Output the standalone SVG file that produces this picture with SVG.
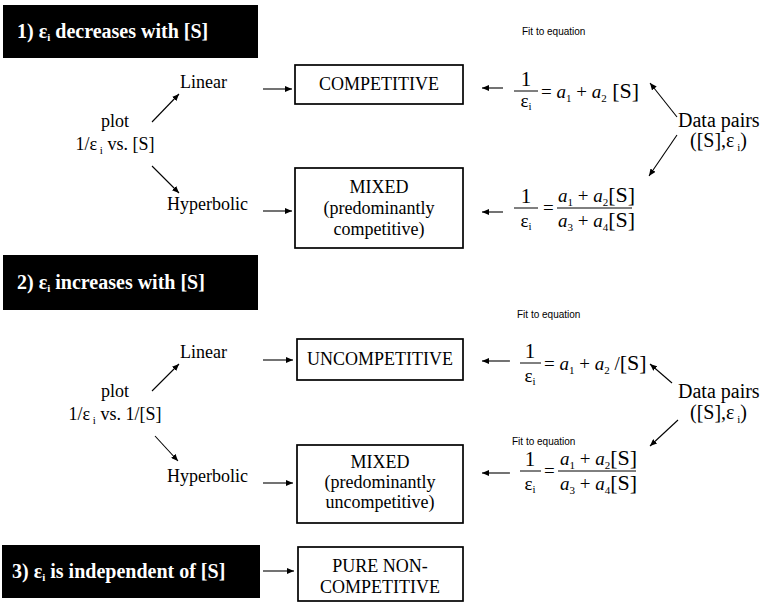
<svg xmlns="http://www.w3.org/2000/svg" width="764" height="604" viewBox="0 0 764 604">
<defs>
<style>
.t{font-family:"Liberation Serif","Times New Roman",serif;font-size:18px;fill:#000}
.bt{font-family:"Liberation Serif","Times New Roman",serif;font-size:20px;font-weight:bold;fill:#fff}
.dp{font-family:"Liberation Serif","Times New Roman",serif;font-size:20px;fill:#000}
.eq{font-family:"Liberation Serif","Times New Roman",serif;font-size:19px;fill:#000}
.one{font-family:"Liberation Serif","Times New Roman",serif;font-size:21px;fill:#000}
.fit{font-family:"Liberation Sans",Arial,sans-serif;font-size:10px;fill:#000}
.box{fill:#fff;stroke:#000;stroke-width:1.7}
.ban{fill:#000}
.c{stroke:#000;stroke-width:1.1;fill:none;marker-end:url(#ah)}
.fl{stroke:#000;stroke-width:1}
.sub{font-size:11px}
</style>
<marker id="ah" markerUnits="userSpaceOnUse" markerWidth="8" markerHeight="6" refX="7" refY="3" orient="auto">
<path d="M0,0 L7,3 L0,6 Z" fill="#000"/>
</marker>
</defs>
<rect width="764" height="604" fill="#fff"/>

<g id="connectors">
<line class="c" x1="152" y1="122" x2="179" y2="94"/>
<line class="c" x1="152" y1="166" x2="179" y2="193"/>
<line class="c" x1="263" y1="89" x2="292" y2="89"/>
<line class="c" x1="263" y1="211" x2="292" y2="211"/>
<line class="c" x1="503" y1="88" x2="482" y2="88"/>
<line class="c" x1="503" y1="212" x2="482" y2="212"/>
<line class="c" x1="677" y1="117" x2="650" y2="83"/>
<line class="c" x1="677" y1="135" x2="649" y2="176"/>
<line class="c" x1="152" y1="391" x2="179" y2="364"/>
<line class="c" x1="155" y1="436" x2="178" y2="461"/>
<line class="c" x1="263" y1="360" x2="293" y2="360"/>
<line class="c" x1="263" y1="483" x2="293" y2="483"/>
<line class="c" x1="510" y1="361" x2="482" y2="361"/>
<line class="c" x1="510" y1="473" x2="482" y2="473"/>
<line class="c" x1="672" y1="383" x2="650" y2="364"/>
<line class="c" x1="678" y1="420" x2="650" y2="446"/>
<line class="c" x1="263" y1="571" x2="294" y2="571"/>
</g>

<g id="banner1">
<rect class="ban" x="3" y="5" width="255" height="53"/>
<text class="bt" x="17" y="38">1) ε<tspan class="sub" dy="3">i</tspan><tspan dy="-3"> decreases with [S]</tspan></text>
</g>
<g id="plot1">
<text class="t" x="115" y="127" text-anchor="middle">plot</text>
<text class="t" x="115" y="150" text-anchor="middle">1/ε<tspan class="sub" dy="4"> i</tspan><tspan dy="-4"> vs. [S]</tspan></text>
</g>
<g id="linear1"><text class="t" x="180" y="88">Linear</text></g>
<g id="hyper1"><text class="t" x="167" y="210">Hyperbolic</text></g>
<g id="competitive">
<rect class="box" x="295" y="65" width="168" height="39"/>
<text class="t" x="379" y="90" text-anchor="middle">COMPETITIVE</text>
</g>
<g id="mixed1">
<rect class="box" x="295" y="168" width="168" height="80"/>
<text class="t" x="379" y="193" text-anchor="middle">MIXED</text>
<text class="t" x="379" y="214" text-anchor="middle">(predominantly</text>
<text class="t" x="379" y="235" text-anchor="middle">competitive)</text>
</g>
<g id="fit1"><text class="fit" x="522" y="35">Fit to equation</text></g>
<g id="eq1a">
<text class="one" x="526" y="86" text-anchor="middle">1</text>
<line class="fl" x1="514" y1="91" x2="538" y2="91"/>
<text class="eq" x="526" y="107" text-anchor="middle">ε<tspan class="sub" dy="3">i</tspan></text>
<text class="eq" x="541" y="98">= <tspan font-style="italic">a</tspan><tspan class="sub" dy="4">1</tspan><tspan dy="-4"> + </tspan><tspan font-style="italic">a</tspan><tspan class="sub" dy="4">2</tspan><tspan dy="-4" font-size="22"> [S]</tspan></text>
</g>
<g id="eq1b">
<text class="one" x="526" y="203" text-anchor="middle">1</text>
<line class="fl" x1="514" y1="208" x2="538" y2="208"/>
<text class="eq" x="526" y="227" text-anchor="middle">ε<tspan class="sub" dy="3">i</tspan></text>
<text class="eq" x="543" y="214">=</text>
<line class="fl" x1="557" y1="208" x2="632" y2="208"/>
<text class="eq" x="558" y="202"><tspan font-style="italic">a</tspan><tspan class="sub" dy="4">1</tspan><tspan dy="-4"> + </tspan><tspan font-style="italic">a</tspan><tspan class="sub" dy="4">2</tspan><tspan dy="-4" font-size="22">[S]</tspan></text>
<text class="eq" x="558" y="227"><tspan font-style="italic">a</tspan><tspan class="sub" dy="4">3</tspan><tspan dy="-4"> + </tspan><tspan font-style="italic">a</tspan><tspan class="sub" dy="4">4</tspan><tspan dy="-4" font-size="22">[S]</tspan></text>
</g>
<g id="data1">
<text class="dp" x="678" y="127">Data pairs</text>
<text class="dp" x="690" y="147">([S],ε<tspan class="sub" dy="4"> i</tspan><tspan dy="-4">)</tspan></text>
</g>

<g id="banner2">
<rect class="ban" x="3" y="255" width="255" height="55"/>
<text class="bt" x="17" y="289">2) ε<tspan class="sub" dy="3">i</tspan><tspan dy="-3"> increases with [S]</tspan></text>
</g>
<g id="plot2">
<text class="t" x="115" y="397" text-anchor="middle">plot</text>
<text class="t" x="115" y="420" text-anchor="middle">1/ε<tspan class="sub" dy="4"> i</tspan><tspan dy="-4"> vs. 1/[S]</tspan></text>
</g>
<g id="linear2"><text class="t" x="180" y="358">Linear</text></g>
<g id="hyper2"><text class="t" x="167" y="482">Hyperbolic</text></g>
<g id="uncompetitive">
<rect class="box" x="297" y="339" width="166" height="41"/>
<text class="t" x="380" y="365" text-anchor="middle">UNCOMPETITIVE</text>
</g>
<g id="mixed2">
<rect class="box" x="297" y="445" width="166" height="78"/>
<text class="t" x="380" y="468" text-anchor="middle">MIXED</text>
<text class="t" x="380" y="488" text-anchor="middle">(predominantly</text>
<text class="t" x="380" y="508" text-anchor="middle">uncompetitive)</text>
</g>
<g id="fit2a"><text class="fit" x="517" y="318">Fit to equation</text></g>
<g id="eq2a">
<text class="one" x="530" y="358" text-anchor="middle">1</text>
<line class="fl" x1="520" y1="363" x2="541" y2="363"/>
<text class="eq" x="530" y="382" text-anchor="middle">ε<tspan class="sub" dy="3">i</tspan></text>
<text class="eq" x="544" y="370">= <tspan font-style="italic">a</tspan><tspan class="sub" dy="4">1</tspan><tspan dy="-4"> + </tspan><tspan font-style="italic">a</tspan><tspan class="sub" dy="4">2</tspan><tspan dy="-4"> /</tspan><tspan font-size="22">[S]</tspan></text>
</g>
<g id="fit2b"><text class="fit" x="512" y="445">Fit to equation</text></g>
<g id="eq2b">
<text class="one" x="530" y="466" text-anchor="middle">1</text>
<line class="fl" x1="520" y1="471" x2="541" y2="471"/>
<text class="eq" x="530" y="490" text-anchor="middle">ε<tspan class="sub" dy="3">i</tspan></text>
<text class="eq" x="544" y="477">=</text>
<line class="fl" x1="558" y1="471" x2="636" y2="471"/>
<text class="eq" x="560" y="465"><tspan font-style="italic">a</tspan><tspan class="sub" dy="4">1</tspan><tspan dy="-4"> + </tspan><tspan font-style="italic">a</tspan><tspan class="sub" dy="4">2</tspan><tspan dy="-4" font-size="22">[S]</tspan></text>
<text class="eq" x="560" y="490"><tspan font-style="italic">a</tspan><tspan class="sub" dy="4">3</tspan><tspan dy="-4"> + </tspan><tspan font-style="italic">a</tspan><tspan class="sub" dy="4">4</tspan><tspan dy="-4" font-size="22">[S]</tspan></text>
</g>
<g id="data2">
<text class="dp" x="678" y="398">Data pairs</text>
<text class="dp" x="690" y="419">([S],ε<tspan class="sub" dy="4"> i</tspan><tspan dy="-4">)</tspan></text>
</g>

<g id="banner3">
<rect class="ban" x="2" y="545" width="258" height="53"/>
<text class="bt" x="12" y="578">3) ε<tspan class="sub" dy="3">i</tspan><tspan dy="-3"> is independent of [S]</tspan></text>
</g>
<g id="purenoncomp">
<rect class="box" x="298" y="547" width="165" height="54"/>
<text class="t" x="380" y="572" text-anchor="middle">PURE NON-</text>
<text class="t" x="380" y="593" text-anchor="middle">COMPETITIVE</text>
</g>
</svg>
